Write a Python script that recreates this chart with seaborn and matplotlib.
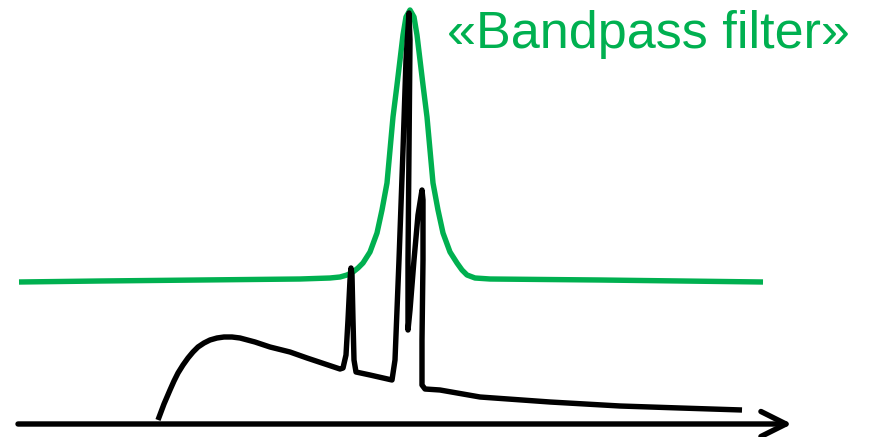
import matplotlib
matplotlib.use("Agg")
import matplotlib.pyplot as plt
import pandas as pd
import seaborn as sns

# spectrum (black), y grows downward
spec_x = [158, 161, 164, 167, 170, 174, 178, 183, 188, 193, 198, 204, 210, 217, 224, 232, 240,
          255, 270, 290, 307, 325, 340,
          343, 346, 348, 350, 351, 352, 353, 354, 356, 370, 392,
          395, 399, 403, 406, 409, 410, 409, 408, 408,
          410, 414, 418, 422, 423, 423, 422, 422, 425, 440,
          480, 550, 620, 680, 742]
spec_y = [420, 412, 404, 397, 390, 381, 373, 365, 358, 352, 347, 343, 340, 338, 337, 337, 338,
          342, 347, 352, 358, 364, 369,
          368, 355, 320, 280, 268, 275, 320, 360, 372, 375, 380,
          360, 260, 150, 60, 13, 40, 150, 260, 330,
          310, 260, 215, 190, 200, 260, 340, 385, 389, 390,
          397, 402, 406, 408, 410]

# bandpass filter (green)
filt_x = [19, 100, 200, 300, 330, 340, 347, 353, 358, 363, 370, 377, 382, 387, 390, 393, 397, 400,
          403, 406, 410, 414, 417, 420, 423, 427, 430, 433, 438, 443, 450, 457, 462, 467, 475,
          490, 600, 763]
filt_y = [282, 281, 280, 279, 278, 277, 275, 272, 268, 263, 252, 233, 210, 183, 150, 117, 85, 60,
          35, 17, 10, 17, 35, 60, 85, 117, 150, 183, 210, 233, 252, 263, 270, 275, 278,
          279, 280, 282]

label = "«Bandpass filter»"
green = "#00B050"

spec = pd.DataFrame({"x": spec_x, "y": spec_y})
filt = pd.DataFrame({"x": filt_x, "y": filt_y})

sns.set_style("white")
plt.rcParams["font.family"] = ["Liberation Sans", "DejaVu Sans"]

fig = plt.figure(figsize=(8.71, 4.37), dpi=100)
ax = fig.add_axes([0, 0, 1, 1])

sns.lineplot(data=filt, x="x", y="y", sort=False, estimator=None, color=green, linewidth=3.9,
             ax=ax, solid_joinstyle="round", solid_capstyle="butt")
sns.lineplot(data=spec, x="x", y="y", sort=False, estimator=None, color="black", linewidth=3.9,
             ax=ax, solid_joinstyle="round", solid_capstyle="butt")

# frequency axis arrow
ax.annotate("", xy=(792, 424), xytext=(18, 424),
            arrowprops=dict(arrowstyle="->,head_length=0.6,head_width=0.3", mutation_scale=30,
                            lw=3.9, color="black", shrinkA=0, shrinkB=0))

ax.text(447, 48, label, color=green, fontsize=37.5, va="baseline", ha="left")

ax.set_xlim(0, 871)
ax.set_ylim(437, 0)
ax.set_axis_off()

fig.savefig("out.png", dpi=100)
